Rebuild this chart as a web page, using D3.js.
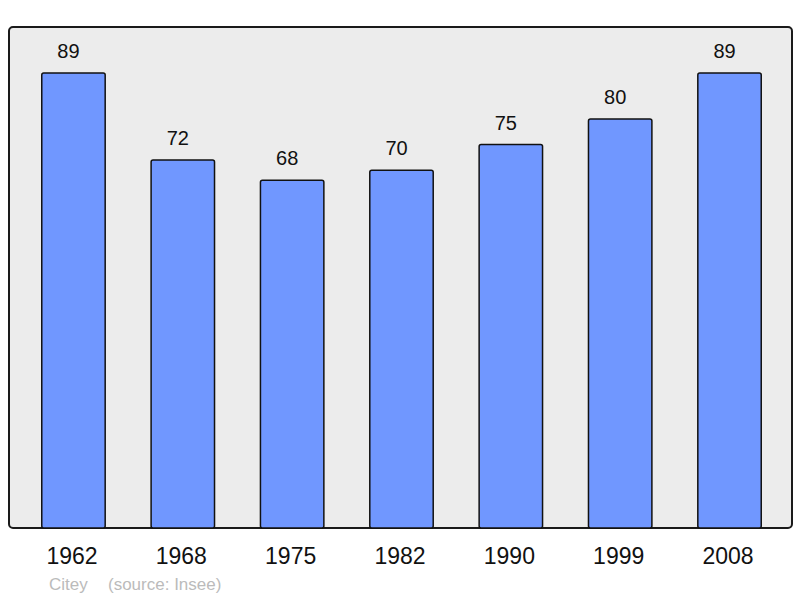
<!DOCTYPE html>
<html><head><meta charset="utf-8">
<script src="https://cdn.jsdelivr.net/npm/d3@7"></script>
<style>body{margin:0;background:#fff;} svg{display:block;font-family:"Liberation Sans",Arial,sans-serif;}</style>
</head><body>
<svg id="c" width="800" height="598"></svg>
<script>
const years = ["1962","1968","1975","1982","1990","1999","2008"];
const population = [89,72,68,70,75,80,89];
const caption = ["Citey","(source: Insee)"];

const svg = d3.select("#c");
const frame = {left:9, top:27, right:792, bottom:528};
svg.append("rect").attr("x",frame.left).attr("y",frame.top)
  .attr("width",frame.right-frame.left).attr("height",frame.bottom-frame.top)
  .attr("rx",4).attr("fill","#ececec").attr("stroke","#1a1a1a").attr("stroke-width",2);

const x = d3.scaleBand().domain(years).range([18.8,784.2]).paddingInner(0.42).paddingOuter(0.21);
const y = d3.scaleLinear().domain([0,98]).range([frame.bottom,frame.top]);

const g = svg.append("g");
g.selectAll("rect.bar").data(years).join("rect").attr("class","bar")
  .attr("x",d=>x(d)).attr("width",x.bandwidth())
  .attr("y",(d,i)=>y(population[i])).attr("height",(d,i)=>frame.bottom-y(population[i]))
  .attr("rx",2)
  .attr("fill","#7097ff").attr("stroke","#111").attr("stroke-width",1.5);

g.selectAll("text.val").data(years).join("text").attr("class","val")
  .attr("x",d=>x(d)+x.bandwidth()/2-5).attr("y",(d,i)=>y(population[i])-15)
  .attr("text-anchor","middle").attr("font-size",20).attr("fill","#111")
  .text((d,i)=>population[i]);

const ax = svg.append("g").attr("transform",`translate(0,${frame.bottom})`)
  .call(d3.axisBottom(x).tickSize(0).tickPadding(20));
ax.select(".domain").remove();
ax.selectAll("text").attr("font-size",23).attr("fill","#111").attr("dx",-1.5).attr("font-family","Liberation Sans, Arial, sans-serif");

svg.append("text").attr("x",49).attr("y",590).attr("font-size",17).attr("fill","#bbbbbb").text(caption[0]);
svg.append("text").attr("x",108).attr("y",590).attr("font-size",17).attr("fill","#bbbbbb").text(caption[1]);
</script>
</body></html>
